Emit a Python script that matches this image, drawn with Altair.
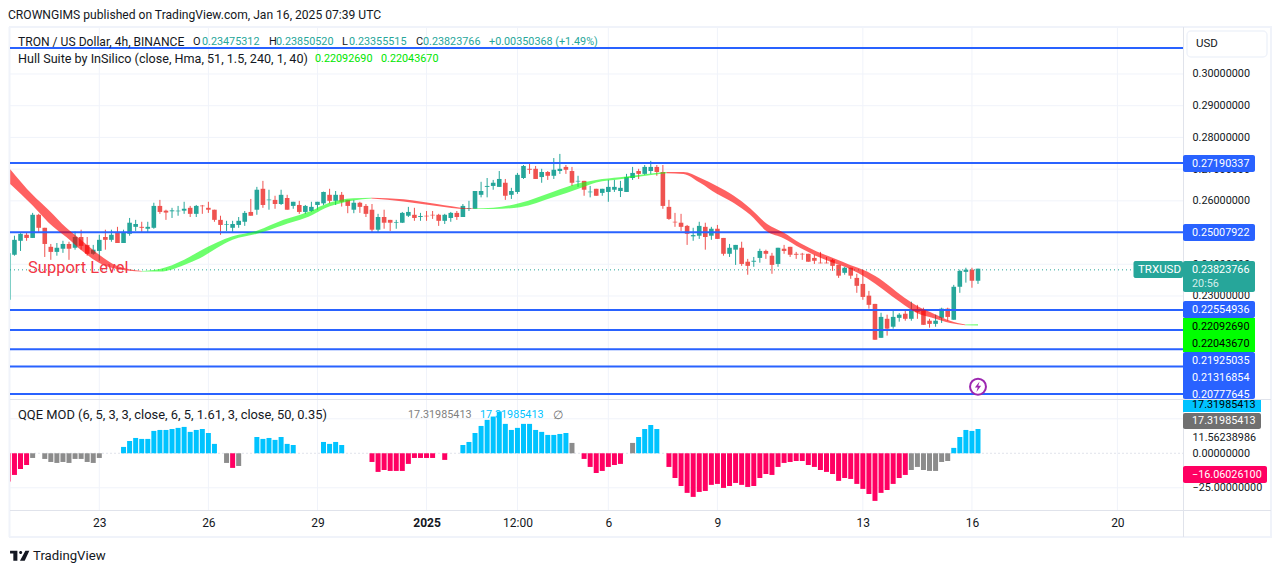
import json
import altair as alt
import pandas as pd

FONT = "Roboto"
INK = "#131722"
UP = "#26a69a"
DOWN = "#ef5350"
BLUE = "#2962ff"
GRID = "#f0f3fa"
EDGE = "#e0e3eb"
NUM = 10.8

candle_rows = """
.2430 .2490 .2427 .2477
.2474 .2498 .2442 .2496
.2493 .2500 .2474 .2483
.2483 .2562 .2483 .2556
.2556 .2559 .2502 .2515
.2515 .2515 .2423 .2464
.2455 .2464 .2414 .2439
.2439 .2467 .2427 .2452
.2449 .2474 .2436 .2464
.2464 .2471 .2414 .2449
.2452 .2503 .2446 .2486
.2486 .2509 .2446 .2458
.2461 .2486 .2427 .2433
.2433 .2461 .2430 .2446
.2442 .2493 .2411 .2477
.2486 .2509 .2446 .2477
.2477 .2509 .2471 .2493
.2502 .2518 .2467 .2467
.2467 .2509 .2467 .2502
.2496 .2546 .2490 .2531
.2518 .2540 .2505 .2527
.2518 .2534 .2502 .2515
.2512 .2534 .2500 .2518
.2515 .2594 .2512 .2584
.2584 .2603 .2559 .2565
.2569 .2572 .2540 .2563
.2567 .2578 .2546 .2570
.2567 .2584 .2553 .2569
.2569 .2597 .2559 .2575
.2578 .2584 .2549 .2559
.2559 .2587 .2549 .2584
.2585 .2587 .2559 .2583
.2578 .2597 .2562 .2572
.2572 .2572 .2534 .2540
.2540 .2553 .2493 .2524
.2525 .2537 .2505 .2527
.2515 .2537 .2502 .2527
.2524 .2549 .2515 .2537
.2534 .2568 .2521 .2562
.2565 .2606 .2553 .2553
.2572 .2644 .2556 .2635
.2638 .2663 .2578 .2587
.2602 .2635 .2572 .2604
.2603 .2616 .2575 .2590
.2590 .2635 .2587 .2619
.2609 .2619 .2572 .2572
.2584 .2597 .2575 .2597
.2587 .2600 .2559 .2565
.2565 .2587 .2559 .2584
.2568 .2597 .2565 .2581
.2587 .2597 .2572 .2597
.2592 .2629 .2587 .2628
.2619 .2638 .2592 .2600
.2600 .2631 .2587 .2619
.2619 .2628 .2582 .2597
.2603 .2603 .2561 .2584
.2572 .2603 .2561 .2594
.2594 .2597 .2562 .2581
.2584 .2590 .2549 .2559
.2572 .2590 .2500 .2509
.2509 .2559 .2501 .2549
.2549 .2572 .2512 .2531
.2540 .2540 .2505 .2531
.2531 .2540 .2512 .2533
.2531 .2565 .2530 .2562
.2553 .2581 .2549 .2565
.2556 .2578 .2537 .2546
.2549 .2562 .2537 .2552
.2553 .2568 .2537 .2551
.2556 .2568 .2543 .2554
.2556 .2559 .2521 .2537
.2537 .2559 .2527 .2556
.2546 .2565 .2534 .2562
.2562 .2568 .2540 .2549
.2549 .2590 .2549 .2584
.2575 .2600 .2568 .2577
.2575 .2631 .2575 .2631
.2619 .2660 .2611 .2631
.2644 .2672 .2611 .2647
.2647 .2666 .2635 .2657
.2644 .2694 .2644 .2669
.2657 .2669 .2603 .2616
.2619 .2641 .2606 .2631
.2628 .2688 .2622 .2682
.2672 .2713 .2669 .2710
.2701 .2720 .2685 .2698
.2701 .2710 .2669 .2669
.2675 .2701 .2657 .2691
.2691 .2694 .2666 .2679
.2679 .2735 .2669 .2698
.2694 .2748 .2685 .2701
.2707 .2713 .2685 .2698
.2694 .2707 .2647 .2657
.2661 .2679 .2644 .2663
.2663 .2663 .2616 .2635
.2627 .2647 .2611 .2629
.2638 .2638 .2616 .2616
.2625 .2638 .2616 .2638
.2628 .2666 .2597 .2644
.2635 .2666 .2628 .2644
.2631 .2663 .2612 .2641
.2628 .2685 .2628 .2675
.2672 .2707 .2666 .2688
.2694 .2701 .2669 .2685
.2685 .2713 .2682 .2707
.2694 .2726 .2685 .2707
.2707 .2713 .2679 .2691
.2691 .2713 .2575 .2584
.2581 .2603 .2540 .2543
.2534 .2562 .2518 .2532
.2531 .2559 .2505 .2518
.2521 .2524 .2461 .2496
.2488 .2515 .2474 .2492
.2490 .2534 .2480 .2521
.2518 .2531 .2446 .2486
.2490 .2518 .2477 .2512
.2512 .2524 .2480 .2480
.2483 .2483 .2427 .2433
.2433 .2464 .2423 .2452
.2446 .2461 .2398 .2461
.2452 .2471 .2395 .2401
.2408 .2417 .2367 .2395
.2408 .2423 .2392 .2411
.2420 .2449 .2405 .2442
.2442 .2446 .2417 .2433
.2427 .2436 .2370 .2398
.2401 .2452 .2392 .2452
.2449 .2461 .2433 .2442
.2455 .2455 .2423 .2430
.2433 .2439 .2417 .2430
.2433 .2436 .2414 .2431
.2433 .2433 .2408 .2408
.2420 .2430 .2401 .2411
.2405 .2439 .2403 .2403
.2405 .2423 .2403 .2403
.2414 .2417 .2379 .2395
.2398 .2398 .2357 .2364
.2373 .2392 .2367 .2389
.2389 .2389 .2354 .2364
.2357 .2370 .2310 .2332
.2338 .2383 .2288 .2297
.2301 .2316 .2260 .2272
.2275 .2275 .2162 .2162
.2168 .2247 .2168 .2234
.2228 .2241 .2175 .2197
.2203 .2253 .2197 .2234
.2231 .2246 .2219 .2241
.2244 .2257 .2222 .2228
.2228 .2282 .2222 .2253
.2253 .2272 .2228 .2250
.2253 .2263 .2209 .2209
.2222 .2228 .2200 .2212
.2212 .2241 .2203 .2222
.2231 .2263 .2215 .2260
.2260 .2263 .2222 .2234
.2225 .2335 .2225 .2329
.2329 .2383 .2310 .2379
.2376 .2389 .2342 .2383
.2383 .2389 .2326 .2348
.2348 .2386 .2338 .2386
"""
candle_start = -14

hull_idx = [-14.7, -11, -8.4, -5.4, -2.7, 0, 2.9, 7,
            7, 10, 14, 16.6, 19.4, 22, 26, 30.4, 35.9, 36.4, 39.7, 41.9, 44.9,
            44.9, 50.2, 55.7, 60.6, 61.7,
            61.7, 65, 69.4, 74.9, 79.3, 82, 85.9, 91.4, 93.6,
            93.6, 96.4, 99.2, 101.9, 104.7, 107.4, 110.2, 112.9, 115.7, 118.4, 121.2, 123.9, 126.7, 129.4, 132.2, 134.9, 137.7, 140.4, 142.9,
            142.9, 145]
hull_hi = [.2700, .2619, .2572, .2514, .2472, .2430, .2395, .2379,
           .2379, .2385, .2414, .2442, .2469, .2488, .2506, .2540, .2577, .2582, .2603, .2608, .2610,
           .2610, .2605, .2590, .2577, .2576,
           .2576, .2578, .2593, .2629, .2656, .2666, .2674, .2687, .2691,
           .2691, .2691, .2672, .2647, .2616, .2577, .2527, .2500, .2466, .2440, .2419, .2398, .2377, .2346, .2304, .2269, .2244, .2222, .2210,
           .2210, .2211]
hull_lo = [.2653, .2585, .2532, .2485, .2440, .2404, .2385, .2377,
           .2377, .2377, .2398, .2419, .2451, .2477, .2496, .2524, .2563, .2569, .2592, .2601, .2607,
           .2607, .2598, .2584, .2574, .2574,
           .2574, .2574, .2580, .2611, .2640, .2658, .2668, .2682, .2687,
           .2687, .2685, .2656, .2622, .2593, .2556, .2503, .2482, .2451, .2425, .2404, .2385, .2356, .2320, .2280, .2246, .2230, .2215, .2208,
           .2208, .2207]
hull_seg = [1] * 8 + [2] * 13 + [3] * 5 + [4] * 9 + [5] * 19 + [6] * 2

qqe_idx = [-14, -13, -12, -11, -9, -8, -7, -6, -5, -4, -3, -2, -1, 0,
           4, 5, 6, 7, 8, 9, 10, 11, 12, 13, 14, 15, 16, 17, 18, 19,
           21, 22, 23,
           26, 27, 28, 29, 30, 31, 32,
           37, 38, 39, 40,
           45, 46, 47, 48, 49, 50, 51, 52, 53, 54, 55,
           57,
           60, 61, 62, 63, 64, 65, 66, 67, 68, 69, 70, 71, 72, 73, 74, 75, 76, 77, 78,
           80, 81, 82, 83, 84, 85, 86,
           88, 89, 90, 91, 92,
           94, 95, 96, 97, 98, 99, 100, 101, 102, 103, 104, 105, 106, 107, 108, 109, 110, 111,
           112, 113, 114, 115, 116, 117, 118, 119, 120, 121, 122, 123, 124, 125, 126, 127, 128,
           129, 130, 131, 132, 133, 134, 135, 136, 137, 138, 139, 140, 141, 142, 143, 144, 145]
qqe_val = [-15.7, -11.4, -8.5, -3.4, -4.1, -6.3, -7.0, -6.3, -7.0, -4.1, -4.1, -6.3, -7.0, -3.4,
           4.6, 8.9, 11.1, 10.4, 10.4, 16.2, 16.9, 16.9, 17.6, 18.4, 19.1, 15.5, 16.9, 17.6, 14.7, 6.8,
           -7.0, -10.6, -9.2,
           11.8, 10.4, 11.1, 9.7, 11.8, 6.8, 6.0,
           8.2, 6.8, 8.2, 6.0,
           -6.3, -13.5, -12.1, -12.8, -12.8, -12.8, -7.7, -3.4, -3.4, -3.4, -3.4,
           -4.8,
           6.0, 8.2, 14.7, 19.8, 24.2, 26.6, 30.2, 21.3, 16.9, 18.4, 21.3, 21.3, 16.9, 15.5, 13.3, 13.3, 14.0, 14.7, 7.5,
           -4.1, -9.9, -14.3, -12.8, -9.9, -8.5, -7.7,
           7.5, 11.8, 17.6, 20.5, 17.6,
           -9.9, -17.9, -23.7, -28.7, -31.6, -28.0, -27.3, -22.9, -22.2, -25.1, -23.7, -21.5, -22.9, -24.4, -23.7, -17.9, -15.0, -15.7,
           -9.9, -7.0, -6.3, -5.6, -5.6, -8.5, -9.9, -12.1, -13.5, -15.0, -20.0, -17.9, -18.6, -22.2, -25.8, -29.5, -34.5,
           -28.7, -26.6, -22.2, -17.9, -15.7, -12.1, -9.9, -12.1, -12.8, -12.8, -6.3, -5.6, 3.9, 11.8, 16.9, 16.2, 17.6]
qqe_grey = [-11, -9, -8, -7, -6, -5, -4, -3, -2, -1, 0, 21, 23, 78, 88, 134, 135, 136, 137, 138, 139, 140]

level_prices = [.3082, .27190337, .25007922, .22554936, .21925035, .21316854, .20777645, .1991]
price_ticks = [.23, .24, .25, .26, .27, .28, .29, .30]
qqe_ticks = [-25.0, 0.0, 11.56238986]
qqe_grid = [-25.0, 25.0]
tick_idx = [0, 18, 36, 54, 69, 84, 102, 126, 144, 168]
tick_txt = ["23", "26", "29", "2025", "12:00", "6", "9", "13", "16", "20"]
last_close = 0.23823766
edge_candle_hi, edge_candle_lo = .2435, .2288
edge_qqe = -20.5

rows = [[float(v) for v in ln.split()] for ln in candle_rows.strip().splitlines()]
candles = pd.DataFrame(rows, columns=["open", "high", "low", "close"])
candles["i"] = range(candle_start, candle_start + len(candles))
candles["dir"] = ["up" if c >= o else "down" for o, c in zip(candles.open, candles.close)]
hull = pd.DataFrame({"i": hull_idx, "hi": hull_hi, "lo": hull_lo, "seg": hull_seg})
hull["side"] = ["red" if s % 2 else "green" for s in hull.seg]
qqe = pd.DataFrame({"i": qqe_idx, "v": qqe_val})
qqe["zero"] = 0.0
qqe["kind"] = ["grey" if i in qqe_grey else ("blue" if v > 0 else "red") for i, v in zip(qqe.i, qqe.v)]

W, H = 1265, 557
xs = alt.Scale(domain=[-15.066, 193.68], nice=False, zero=False, padding=0)
ys = alt.Scale(domain=[.19751, .31482], range=[391, 19], nice=False, zero=False)
qs = alt.Scale(domain=[-41.1, 38.6], range=[502, 392], nice=False, zero=False)
one = pd.DataFrame({"a": [0]})
X = lambda f: alt.X(f, type="quantitative", scale=xs, axis=None)
Y = lambda f: alt.Y(f, type="quantitative", scale=ys, axis=None)
Q = lambda f: alt.Y(f, type="quantitative", scale=qs, axis=None)


def px(v):
    return alt.value(v - 8)


def hline(y, x1, x2, color=EDGE, w=1.0, dash=None):
    kw = {"strokeDash": dash} if dash else {}
    return alt.Chart(one).mark_rule(color=color, strokeWidth=w, **kw).encode(x=px(x1), x2=px(x2), y=px(y))


def vline(x, y1, y2, color=EDGE, w=1.0):
    return alt.Chart(one).mark_rule(color=color, strokeWidth=w).encode(x=px(x), y=px(y1), y2=px(y2))


def box(x1, x2, y1, y2, fill, r=0, **kw):
    return alt.Chart(one).mark_rect(fill=fill, cornerRadius=r, **kw).encode(x=px(x1), x2=px(x2), y=px(y1), y2=px(y2))


def txt(s, x, y, color=INK, size=NUM, weight="normal", align="left"):
    return alt.Chart(one).mark_text(color=color, fontSize=size, fontWeight=weight, font=FONT, align=align,
                                    baseline="middle").encode(x=px(x), y=px(y), text=alt.value(s))


label_map = json.dumps({str(k): v for k, v in zip(tick_idx, tick_txt)})

# axes + grid
x_grid = alt.Chart(pd.DataFrame({"i": tick_idx})).mark_rule(color=GRID, strokeWidth=1).encode(
    x=alt.X("i:Q", scale=xs, axis=alt.Axis(
        orient="bottom", values=tick_idx, labelExpr=f"{label_map}['' + datum.value]", offset=-(H - 502),
        domain=False, ticks=False, grid=False, title=None, labelFont=FONT, labelFontSize=12, labelColor=INK,
        labelPadding=7, labelOverlap=False, labelFlush=False, labelBound=False,
        labelFontWeight={"condition": {"test": "datum.value == 54", "value": "bold"}, "value": "normal"})),
    y=alt.value(19), y2=alt.value(502))
price_grid = alt.Chart(pd.DataFrame({"p": price_ticks})).mark_rule(color=GRID, strokeWidth=1).encode(
    y=alt.Y("p:Q", scale=ys, axis=alt.Axis(
        orient="right", values=price_ticks, format=".8f", offset=-(W - 1175), domain=False, ticks=False,
        grid=False, title=None, labelFont=FONT, labelFontSize=NUM, labelColor=INK, labelPadding=9,
        labelOverlap=False, labelFlush=False, labelBound=False)),
    x=px(10), x2=px(1183))
qqe_axis = alt.Chart(pd.DataFrame({"v": qqe_ticks})).mark_rule(opacity=0).encode(
    y=alt.Y("v:Q", scale=qs, axis=alt.Axis(
        orient="right", values=qqe_ticks, format=".8f", offset=-(W - 1175), domain=False, ticks=False,
        grid=False, title=None, labelFont=FONT, labelFontSize=NUM, labelColor=INK, labelPadding=9,
        labelOverlap=False, labelFlush=False, labelBound=False)),
    x=px(10), x2=px(11))
qqe_lines = alt.Chart(pd.DataFrame({"v": qqe_grid})).mark_rule(color=GRID).encode(y=Q("v"), x=px(10), x2=px(1183))
qqe_zero = alt.Chart(pd.DataFrame({"v": [0.0]})).mark_rule(color=EDGE, strokeDash=[2, 2]).encode(y=Q("v"), x=px(10), x2=px(1183))

# candles
wicks = alt.Chart(candles).mark_rule(strokeWidth=1).encode(
    x=X("i"), y=Y("low"), y2="high",
    color=alt.Color("dir:N", scale=alt.Scale(domain=["up", "down"], range=[UP, DOWN]), legend=None))
bodies = alt.Chart(candles).mark_bar(size=4.6).encode(
    x=X("i"), y=Y("open"), y2="close",
    color=alt.Color("dir:N", scale=alt.Scale(domain=["up", "down"], range=[UP, DOWN]), legend=None))
edge_wick = alt.Chart(pd.DataFrame({"hi": [edge_candle_hi], "lo": [edge_candle_lo]})).mark_rule(
    color="#7fcfc6", strokeWidth=1).encode(x=px(10.5), y=Y("lo"), y2="hi")
edge_bar = alt.Chart(pd.DataFrame({"v": [edge_qqe], "z": [0.0]})).mark_rule(color="#ff7aa8", strokeWidth=1).encode(
    x=px(10.5), y=Q("v"), y2="z")

levels = alt.Chart(pd.DataFrame({"p": level_prices})).mark_rule(color=BLUE, strokeWidth=2).encode(
    y=Y("p"), x=px(10), x2=px(1183))
last_line = alt.Chart(pd.DataFrame({"p": [last_close]})).mark_rule(color=UP, strokeWidth=1, strokeDash=[1, 3]).encode(
    y=Y("p"), x=px(10), x2=px(1134))

band = alt.Chart(hull).mark_area(interpolate="monotone", opacity=0.62, line=False).encode(
    x=X("i"), y=Y("hi"), y2="lo", detail="seg:N",
    color=alt.Color("side:N", scale=alt.Scale(domain=["red", "green"], range=["#ff0000", "#14ff14"]), legend=None))

bars = alt.Chart(qqe).mark_bar(size=5).encode(
    x=X("i"), y=Q("v"), y2="zero",
    color=alt.Color("kind:N", scale=alt.Scale(domain=["blue", "red", "grey"], range=["#00c3ff", "#ff0062", "#8c8c8c"]),
                    legend=None))

frame = [
    hline(27, 9, 1272, GRID, 2), hline(537, 9, 1272, GRID, 2), vline(9.5, 27, 537, GRID, 2), vline(1271, 27, 537, GRID, 2),
    hline(399.5, 10, 1271), hline(510.5, 10, 1271), vline(1183.5, 27, 537),
]

usd = [box(1187, 1267, 31, 57, "#ffffff", 4, stroke=GRID, strokeWidth=1.5), txt("USD", 1196, 44, INK, 11.5)]

tags = [
    box(1133.5, 1183, 261, 278, UP, 2), txt("TRXUSD", 1138, 269.5, "#ffffff", 11.5),
    box(1183, 1255, 261, 292, UP, 2), txt("0.23823766", 1192, 270, "#ffffff"), txt("20:56", 1192, 284, "#d4eeeb"),
    box(1183, 1255, 301, 318, BLUE, 2), txt("0.22554936", 1192, 310, "#ffffff"),
    box(1183, 1255, 318, 352, "#00ff00"), txt("0.22092690", 1192, 326.7, "#000000"), txt("0.22043670", 1192, 343.5, "#000000"),
    box(1183, 1255, 352, 399, BLUE, 2), txt("0.21925035", 1192, 360.7, "#ffffff"), txt("0.21316854", 1192, 378, "#ffffff"),
    txt("0.20777645", 1192, 394.5, "#ffffff"),
    box(1183, 1261, 400, 412, "#00c3ff"), txt("17.31985413", 1192, 404.5, "#000000"),
    box(1183, 1261, 413, 429, "#707070", 2), txt("17.31985413", 1192, 421, "#ffffff"),
    box(1183, 1267, 466, 483, "#ff0062", 2), txt("\u221216.06026100", 1192, 475, "#ffffff"),
]
tag_163 = [box(1183, 1255, 155, 172, BLUE, 2), txt("0.27190337", 1192, 163.5, "#ffffff"),
           box(1183, 1255, 224, 241, BLUE, 2), txt("0.25007922", 1192, 232.5, "#ffffff")]

texts = [
    txt("CROWNGIMS published on TradingView.com, Jan 16, 2025 07:39 UTC", 8, 15, INK, 12.1),
    txt("TRON / US Dollar, 4h, BINANCE", 18, 41.5, INK, 12.1),
    txt("O", 193, 41.5, INK, 11), txt("0.23475312", 202, 41.5, UP),
    txt("H", 269, 41.5, INK, 11), txt("0.23850520", 276, 41.5, UP),
    txt("L", 342, 41.5, INK, 11), txt("0.23355515", 349, 41.5, UP),
    txt("C", 416, 41.5, INK, 11), txt("0.23823766", 423, 41.5, UP),
    txt("+0.00350368 (+1.49%)", 489, 41.5, UP),
    txt("Hull Suite by InSilico (close, Hma, 51, 1.5, 240, 1, 40)", 18, 59, INK, 12.6),
    txt("0.22092690", 315, 59, "#00e600"), txt("0.22043670", 381, 59, "#00e600"),
    txt("QQE MOD (6, 5, 3, 3, close, 6, 5, 1.61, 3, close, 50, 0.35)", 18, 415, INK, 12.9),
    txt("17.31985413", 408, 415, "#808080"), txt("17.31985413", 480, 415, "#00c3ff"),
    txt("\u2205", 553, 415, "#707070", 12),
    txt("Support Level", 28, 268, "#f23645", 16.5),
    txt("TradingView", 33, 555.5, INK, 13.2),
]

logo_path = ("M-1,-.52 L-.24,-.52 L-.24,.52 L-.66,.52 L-.66,-.24 L-1,-.24 Z "
             "M.59,-.52 L1,-.52 L.52,.52 L.03,.52 Z "
             "M-.06,-.34 a.16,.16 0 1,0 .32,0 a.16,.16 0 1,0 -.32,0 Z")
logo = alt.Chart(one).mark_point(shape=logo_path, filled=True, color=INK, opacity=1, size=372).encode(x=px(19.7), y=px(555.7))
flash_c = alt.Chart(one).mark_point(shape="circle", filled=False, fill="#ffffff", stroke="#9c27b0", strokeWidth=2,
                                    opacity=1, size=254).encode(x=px(978), y=px(386.7))
bolt_path = "M.3,-1 L-.6,.15 L-.05,.15 L-.3,1 L.6,-.2 L.05,-.2 Z"
flash_b = alt.Chart(one).mark_point(shape=bolt_path, filled=True, color="#9c27b0", opacity=1, size=110).encode(x=px(978), y=px(386.7))

layers = [x_grid, price_grid, qqe_axis, qqe_lines, qqe_zero] + frame + [bars, edge_bar, edge_wick, wicks, bodies,
          last_line, levels, band, flash_c, flash_b] + usd + tag_163 + tags + texts + [logo]

chart = alt.layer(*layers).resolve_scale(y="independent", color="independent").resolve_axis(x="independent").properties(
    width=W, height=H, padding=0, background="#ffffff",
    autosize=alt.AutoSizeParams(type="none"),
).configure_view(stroke=None)

chart.save("out.html", embed_options={"renderer": "svg", "actions": False})
